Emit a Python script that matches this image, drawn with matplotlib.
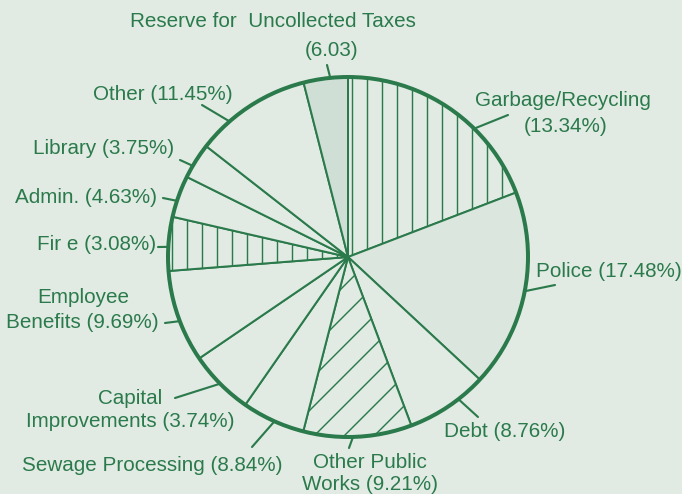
import numpy as np
import matplotlib
matplotlib.use('Agg')
import matplotlib.pyplot as plt

# slices in clockwise order starting at 12 o'clock
names = ['Garbage/Recycling', 'Police', 'Debt', 'Other Public Works',
         'Sewage Processing', 'Capital Improvements', 'Employee Benefits',
         'Fire', 'Admin.', 'Library', 'Other', 'Reserve for Uncollected Taxes']
# printed percentages (from the labels)
printed_pct = [13.34, 17.48, 8.76, 9.21, 8.84, 3.74, 9.69, 3.08, 4.63, 3.75, 11.45, 6.03]
# wedge sizes as actually drawn in the picture (% of circle)
drawn_pct = [19.17, 17.75, 7.36, 9.72, 5.67, 5.81, 8.28, 4.83, 3.75, 3.22, 10.47, 3.97]

label_lines = [
    ['Garbage/Recycling', '(13.34%)'],
    ['Police (17.48%)'],
    ['Debt (8.76%)'],
    ['Other Public', 'Works (9.21%)'],
    ['Sewage Processing (8.84%)'],
    ['Capital', 'Improvements (3.74%)'],
    ['Employee', 'Benefits (9.69%)'],
    ['Fir e (3.08%)'],
    ['Admin. (4.63%)'],
    ['Library (3.75%)'],
    ['Other (11.45%)'],
    ['Reserve for  Uncollected Taxes', '(6.03)'],
]

W, H = 682, 494
DPI = 90
green = '#2b7a4b'
bg = '#e1ebe4'

# text layout: (center x, baseline y) per line, in image pixels
text_pos = [
    [(563, 106), (566, 132)],
    [(609, 277)],
    [(505, 437)],
    [(370, 468), (370, 490)],
    [(152, 471)],
    [(130, 404), (130, 427)],
    [(83, 303), (82, 328)],
    [(97, 250)],
    [(86, 203)],
    [(104, 154)],
    [(163, 100)],
    [(273, 27), (332, 56)],
]
# leader line outer ends (image pixels) and angle offsets from wedge middle
leader_end = [(508, 115), (555, 285), (478, 417), (349, 448), (252, 447),
              (175, 398), (165, 323), (158, 247), (163, 198), (180, 160),
              (202, 105), (327, 65)]
leader_off = [-10, 0, 4, -1.5, 0.5, 0, 1.5, 1, 1.5, 1.8, 8, -1.5]

hatches = ['|', None, None, '/', None, None, None, '|', None, None, None, None]
fills = [bg, '#dbe6df'] + [bg] * 9 + ['#cfdfd5']

plt.rcParams['font.family'] = ['Liberation Sans', 'DejaVu Sans']
plt.rcParams['hatch.linewidth'] = 1.15
plt.rcParams['hatch.color'] = green

fig = plt.figure(figsize=(W / DPI, H / DPI), dpi=DPI, facecolor=bg)
ax = fig.add_axes([0, 0, 1, 1])
ax.set_facecolor(bg)

wedges, _ = ax.pie(drawn_pct, startangle=90, counterclock=False, colors=fills,
                   hatch=hatches, radius=1,
                   wedgeprops=dict(edgecolor=green, linewidth=1.6))
# heavy outer ring
ax.pie([1], colors=['none'], radius=1,
       wedgeprops=dict(edgecolor=green, linewidth=3.2, fill=False))

cx, cy, r = 348, 257, 180
ax.set_xlim(-cx / r, (W - cx) / r)
ax.set_ylim(-(H - cy) / r, cy / r)
ax.set_aspect('auto')
ax.axis('off')

for w, lines, pos, end, off in zip(wedges, label_lines, text_pos, leader_end, leader_off):
    a = np.deg2rad((w.theta1 + w.theta2) / 2 + off)
    ax.annotate('', xy=(np.cos(a), np.sin(a)), xycoords='data',
                xytext=(end[0], H - end[1]), textcoords='figure pixels',
                arrowprops=dict(arrowstyle='-', color=green, lw=1.7,
                                shrinkA=0, shrinkB=0))
    for txt, (x, y) in zip(lines, pos):
        fig.text(x / W, 1 - y / H, txt, ha='center', va='baseline',
                 fontsize=16.5, color=green)

fig.savefig('out.png', dpi=DPI, facecolor=bg)
